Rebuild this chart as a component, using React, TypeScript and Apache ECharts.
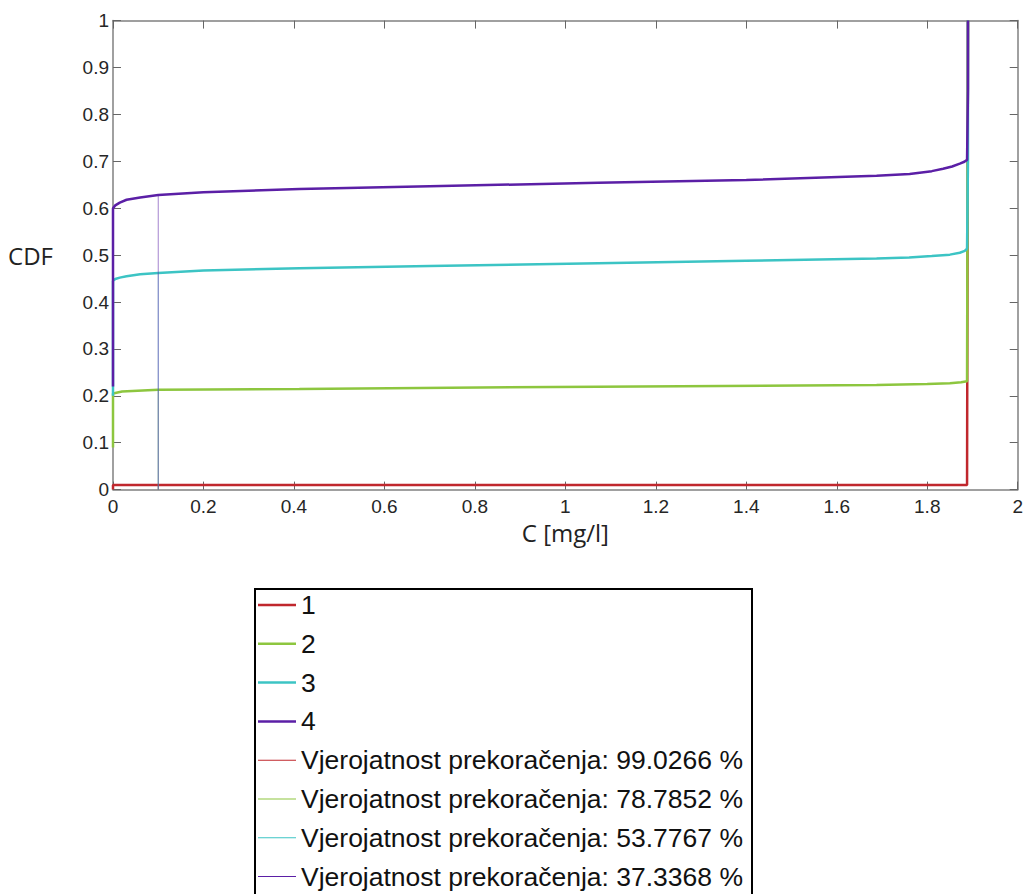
import React, { useEffect, useRef } from "react";
import * as echarts from "echarts";

// ---- data ----
const seriesNames = ["1", "2", "3", "4"];
const seriesColors = ["#c0272d", "#8dc63f", "#3cc4c4", "#5b1fa6"];

const x1 = [0, 0, 1.888, 1.89];
const y1 = [0, 0.0097, 0.0097, 1];

const x2 = [0, 0, 0.02, 0.1, 0.412, 1.072, 1.688, 1.8, 1.85, 1.875, 1.888, 1.89];
const y2 = [0.09, 0.205, 0.209, 0.213, 0.2145, 0.2195, 0.223, 0.225, 0.227, 0.229, 0.231, 1];

const x3 = [0, 0, 0.005, 0.015, 0.03, 0.06, 0.1, 0.2, 0.412, 0.7, 1.072, 1.4, 1.688, 1.76, 1.81, 1.85, 1.872, 1.883, 1.888, 1.89, 1.89];
const y3 = [0.2, 0.445, 0.449, 0.452, 0.455, 0.459, 0.462, 0.467, 0.472, 0.477, 0.4825, 0.488, 0.493, 0.495, 0.498, 0.501, 0.505, 0.509, 0.514, 0.7, 1];

const x4 = [0, 0, 0.005, 0.015, 0.03, 0.06, 0.1, 0.2, 0.412, 0.7, 1.072, 1.4, 1.688, 1.761, 1.81, 1.835, 1.855, 1.872, 1.882, 1.888, 1.89, 1.89];
const y4 = [0.22, 0.6, 0.606, 0.612, 0.618, 0.623, 0.628, 0.634, 0.641, 0.647, 0.654, 0.66, 0.669, 0.673, 0.679, 0.684, 0.689, 0.695, 0.699, 0.703, 0.85, 1];

// exceedance probability lines at threshold C = 0.1 mg/l
const thresholdC = 0.1;
const exceedNames = [
  "Vjerojatnost prekoračenja: 99.0266 %",
  "Vjerojatnost prekoračenja: 78.7852 %",
  "Vjerojatnost prekoračenja: 53.7767 %",
  "Vjerojatnost prekoračenja: 37.3368 %",
];
const exceedCdf = [0.0097, 0.2121, 0.4622, 0.6266];

const xs = [x1, x2, x3, x4];
const ys = [y1, y2, y3, y4];

export default function App() {
  const ref = useRef<HTMLDivElement>(null);

  useEffect(() => {
    document.body.style.margin = "0";
    document.body.style.overflow = "hidden";
    if (!ref.current) return;
    const chart = echarts.init(ref.current, undefined, { renderer: "svg" });

    const axisLineStyle = { color: "#808080", width: 1.5 };
    const tickStyle = { color: "#666", width: 1 };
    const labelStyle = {
      fontFamily: "'Liberation Sans', Arial, sans-serif",
      fontSize: 19,
      color: "#262626",
    };
    const legendText = {
      fontFamily: "'Liberation Sans', Arial, sans-serif",
      fontSize: 26.5,
      lineHeight: 32,
      color: "#111",
    };

    const curveSeries = seriesNames.map((n, i) => ({
      name: n,
      type: "line",
      xAxisIndex: 0,
      yAxisIndex: 0,
      showSymbol: false,
      symbol: "none",
      smooth: false,
      lineStyle: { color: seriesColors[i], width: 2.5 },
      itemStyle: { color: seriesColors[i] },
      data: xs[i].map((x, k) => [x, ys[i][k]]),
      z: 3,
    }));

    const thresholdSeries = exceedNames.map((n, i) => ({
      name: n,
      type: "line",
      xAxisIndex: 0,
      yAxisIndex: 0,
      showSymbol: false,
      symbol: "none",
      lineStyle: { color: seriesColors[i], width: 1, opacity: 0.55 },
      itemStyle: { color: seriesColors[i] },
      data: [
        [thresholdC, 0],
        [thresholdC, exceedCdf[i]],
      ],
      z: 4,
    }));

    chart.setOption({
      animation: false,
      backgroundColor: "#ffffff",
      grid: { left: 113, right: 4.4, top: 20.6, bottom: 404.4, containLabel: false },
      xAxis: [
        {
          type: "value",
          min: 0,
          max: 2,
          interval: 0.2,
          position: "bottom",
          name: "C [mg/l]",
          nameLocation: "middle",
          nameGap: 17,
          nameTextStyle: { fontFamily: "'Open Sans', sans-serif", fontSize: 24, color: "#222" },
          axisLine: { show: true, onZero: false, lineStyle: axisLineStyle },
          axisTick: { show: true, inside: true, length: 8, lineStyle: tickStyle },
          axisLabel: { ...labelStyle, margin: 7 },
          splitLine: { show: false },
        },
        {
          type: "value",
          min: 0,
          max: 2,
          interval: 0.2,
          position: "top",
          axisLine: { show: true, onZero: false, lineStyle: axisLineStyle },
          axisTick: { show: true, inside: true, length: 8, lineStyle: tickStyle },
          axisLabel: { show: false },
          splitLine: { show: false },
        },
      ],
      yAxis: [
        {
          type: "value",
          min: 0,
          max: 1,
          interval: 0.1,
          position: "left",
          name: "CDF",
          nameLocation: "middle",
          nameRotate: 0,
          nameGap: 60,
          nameTextStyle: { fontFamily: "'Open Sans', sans-serif", fontSize: 24, color: "#222" },
          axisLine: { show: true, onZero: false, lineStyle: axisLineStyle },
          axisTick: { show: true, inside: true, length: 8, lineStyle: tickStyle },
          axisLabel: { ...labelStyle, margin: 4 },
          splitLine: { show: false },
        },
        {
          type: "value",
          min: 0,
          max: 1,
          interval: 0.1,
          position: "right",
          axisLine: { show: true, onZero: false, lineStyle: axisLineStyle },
          axisTick: { show: true, inside: true, length: 8, lineStyle: tickStyle },
          axisLabel: { show: false },
          splitLine: { show: false },
        },
      ],
      graphic: [
        {
          type: "rect",
          z: 0,
          shape: { x: 255, y: 589, width: 497, height: 330 },
          style: { fill: "#ffffff", stroke: "#000000", lineWidth: 2 },
        },
      ],
      legend: [
        {
          orient: "vertical",
          left: 255,
          top: 589,
          padding: [0, 0, 0, 3],
          icon: "rect",
          itemWidth: 38,
          itemHeight: 2.5,
          itemGap: 6.8,
          z: 5,
          textStyle: legendText,
          data: seriesNames,
        },
        {
          orient: "vertical",
          left: 255,
          top: 744.2,
          padding: [0, 0, 0, 3],
          icon: "rect",
          itemWidth: 38,
          itemHeight: 1,
          itemGap: 6.8,
          z: 5,
          textStyle: legendText,
          data: exceedNames,
        },
      ],
      series: [...curveSeries, ...thresholdSeries],
    });

    return () => chart.dispose();
  }, []);

  return <div ref={ref} style={{ width: 1026, height: 894 }} />;
}
